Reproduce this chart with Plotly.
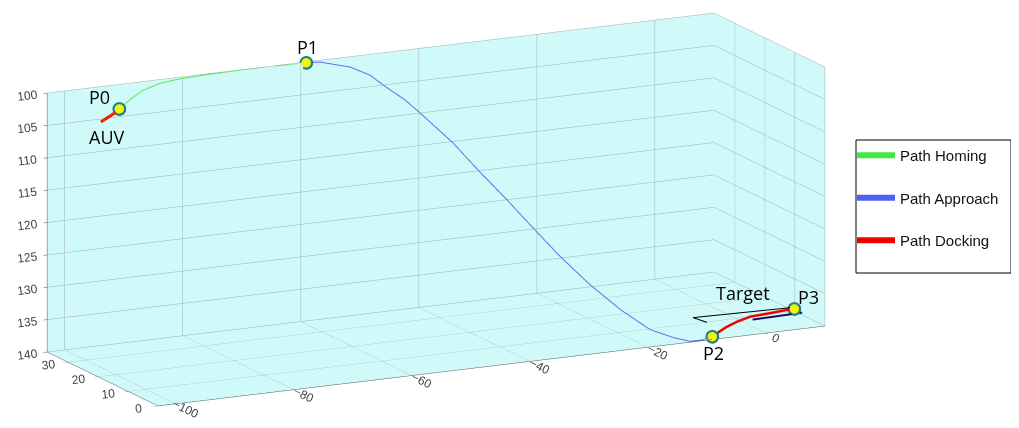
import plotly.graph_objects as go

# ---- data ----
homing_x = [-91.8, -90.2, -88.7, -87.2, -84.2, -81.2, -75.5, -70.0, -64.5, -59.1]
homing_y = [35.0, 35.5, 35.8, 36.0, 36.3, 36.5, 36.8, 37.0, 37.0, 37.0]
homing_z = [103.2, 102.45, 101.7, 101.05, 100.4, 100.15, 100.05, 100.02, 100.05, 100.1]

approach_x = [-59.1, -56.8, -52.2, -49.5, -47.4, -45.2, -43.5, -40.0, -37.2, -34.4,
              -31.8, -29.0, -25.8, -22.3, -18.6, -15.3, -12.8, -10.6, -8.9]
approach_y = [37.0, 36.8, 35.8, 34.6, 32.9, 31.3, 29.7, 25.9, 22.2, 18.6,
              15.1, 11.5, 7.9, 4.6, 2.0, 0.75, 0.1, 0.1, 0.4]
approach_z = [100.1, 100.23, 101.28, 102.55, 104.39, 106.13, 107.94, 111.96, 116.04, 119.86,
              123.67, 127.61, 131.48, 134.98, 137.87, 139.19, 139.9, 139.9, 139.65]

docking_x = [-8.9, -6.6, -4.6, -2.4, 0.5, 3.2, 5.05]
docking_y = [0.4, 0.5, 0.5, 0.5, 0.5, 0.5, 0.5]
docking_z = [139.65, 138.54, 137.84, 137.31, 137.16, 136.99, 136.9]

auv_x = [-94.9, -92.4]
auv_y = [35.0, 35.0]
auv_z = [104.9, 103.7]

target_x = [6.1, -12.1, -9.7]
target_y = [0.5, 0.5, 0.5]
target_z = [136.7, 136.4, 137.4]

station_x = [-2.0, 6.4]
station_y = [0.5, 0.5]
station_z = [137.81, 137.66]

wp_names = ["P0", "P1", "P2", "P3"]
wp_x = [-91.8, -59.1, -8.9, 5.05]
wp_y = [35.0, 37.0, 0.4, 0.5]
wp_z = [103.2, 100.1, 139.65, 136.9]

x_ticks = [-100, -80, -60, -40, -20, 0]
y_ticks = [0, 10, 20, 30]
z_ticks = [100, 105, 110, 115, 120, 125, 130, 135, 140]

legend_names = ["Path Homing", "Path Approach", "Path Docking"]
legend_colors = ["#44E844", "#4A63EE", "#F00000"]

GREEN = "#5CE85C"
BLUE = "#5A72E8"
RED = "#F00000"
BG = "rgb(208,250,250)"

# view direction (unit vector from scene centre towards the viewer)
view_dir = (-0.4315, -0.8692, 0.2416)
asp = (2.79, 0.935, 1.0)
rng = (113.0, 37.0, 40.0)
# tiny shift of the yellow marker toward the viewer so it is drawn over its ring/lines
eps = 0.009
dxyz = [eps * view_dir[i] * rng[i] / asp[i] for i in range(3)]
front_x = [v + dxyz[0] for v in wp_x]
front_y = [v + dxyz[1] for v in wp_y]
front_z = [v - dxyz[2] for v in wp_z]  # z axis is reversed

fig = go.Figure()

fig.add_trace(go.Scatter3d(x=homing_x, y=homing_y, z=homing_z, mode="lines",
                           line=dict(color=GREEN, width=2), showlegend=False, hoverinfo="skip"))
fig.add_trace(go.Scatter3d(x=approach_x, y=approach_y, z=approach_z, mode="lines",
                           line=dict(color=BLUE, width=2), showlegend=False, hoverinfo="skip"))
fig.add_trace(go.Scatter3d(x=target_x, y=target_y, z=target_z, mode="lines",
                           line=dict(color="black", width=2), showlegend=False, hoverinfo="skip"))
fig.add_trace(go.Scatter3d(x=station_x, y=station_y, z=station_z, mode="lines",
                           line=dict(color="#101060", width=4), showlegend=False, hoverinfo="skip"))
fig.add_trace(go.Scatter3d(x=docking_x, y=docking_y, z=docking_z, mode="lines",
                           line=dict(color=RED, width=5), showlegend=False, hoverinfo="skip"))
fig.add_trace(go.Scatter3d(x=auv_x, y=auv_y, z=auv_z, mode="lines",
                           line=dict(color="#F02000", width=6), showlegend=False, hoverinfo="skip"))
fig.add_trace(go.Scatter3d(x=wp_x, y=wp_y, z=wp_z, mode="markers",
                           marker=dict(size=8, color="#1E7F8E", line=dict(width=0)),
                           showlegend=False, hoverinfo="skip"))
fig.add_trace(go.Scatter3d(x=front_x, y=front_y, z=front_z, mode="markers",
                           marker=dict(size=5.5, color="#F5F50A", line=dict(width=0)),
                           showlegend=False, hoverinfo="skip"))

# legend-only entries
for nm, col in zip(legend_names, legend_colors):
    fig.add_trace(go.Scatter3d(x=[None], y=[None], z=[None], mode="lines", name=nm,
                               legendgroup=nm, line=dict(color=col, width=6)))

ann_font = dict(family="Open Sans", size=18, color="black")
annotations = [
    dict(x=wp_x[0], y=wp_y[0], z=wp_z[0], text="P0", xshift=-20, yshift=12),
    dict(x=wp_x[0], y=wp_y[0], z=wp_z[0], text="AUV", xshift=-12, yshift=-28),
    dict(x=wp_x[1], y=wp_y[1], z=wp_z[1], text="P1", xshift=1, yshift=16),
    dict(x=wp_x[2], y=wp_y[2], z=wp_z[2], text="P2", xshift=1, yshift=-16),
    dict(x=wp_x[3], y=wp_y[3], z=wp_z[3], text="P3", xshift=14, yshift=12),
    dict(x=wp_x[3], y=wp_y[3], z=wp_z[3], text="Target", xshift=-51, yshift=16),
]
for a in annotations:
    a.update(showarrow=False, font=ann_font)

axis_common = dict(showbackground=True, backgroundcolor=BG, gridcolor="#9FADAD", gridwidth=1,
                   showline=True, linecolor="#555555", linewidth=1,
                   ticks="outside", tickcolor="#555555",
                   tickfont=dict(family="Liberation Sans, Arial", size=12, color="#444444"),
                   title=dict(text=""), zeroline=False, showspikes=False)

r = 1.5
cz = -0.06
center = dict(x=0, y=0, z=cz)
eye = dict(x=view_dir[0] * r, y=view_dir[1] * r, z=view_dir[2] * r + cz)
k = 1.247

fig.update_layout(
    width=1019, height=428,
    margin=dict(l=0, r=0, t=0, b=0),
    paper_bgcolor="white",
    scene=dict(
        domain=dict(x=[0.0, 0.84], y=[0.0, 1.0]),
        xaxis=dict(range=[-103, 10], tickvals=x_ticks, ticklen=4, **axis_common),
        yaxis=dict(range=[0, 37], tickvals=y_ticks, ticklen=4, **axis_common),
        zaxis=dict(range=[140, 100], tickvals=z_ticks, ticklen=8, **axis_common),
        aspectmode="manual",
        aspectratio=dict(x=asp[0] * k, y=asp[1] * k, z=asp[2] * k),
        camera=dict(eye=eye, up=dict(x=0, y=0, z=1), center=center,
                    projection=dict(type="orthographic")),
        annotations=annotations,
    ),
    shapes=[dict(type="rect", xref="paper", yref="paper",
                 x0=848 / 1019, x1=1003 / 1019, y0=1 - 265 / 428, y1=1 - 132 / 428,
                 line=dict(color="black", width=1), fillcolor="rgba(0,0,0,0)")],
    legend=dict(x=844 / 1019, y=1 - 131 / 428, xanchor="left", yanchor="top",
                borderwidth=0, bgcolor="rgba(0,0,0,0)",
                font=dict(family="Liberation Sans, Arial", size=15, color="#111111"),
                tracegroupgap=20, itemwidth=38),
    showlegend=True,
)

fig.write_html("out.html", config={"displayModeBar": False})
